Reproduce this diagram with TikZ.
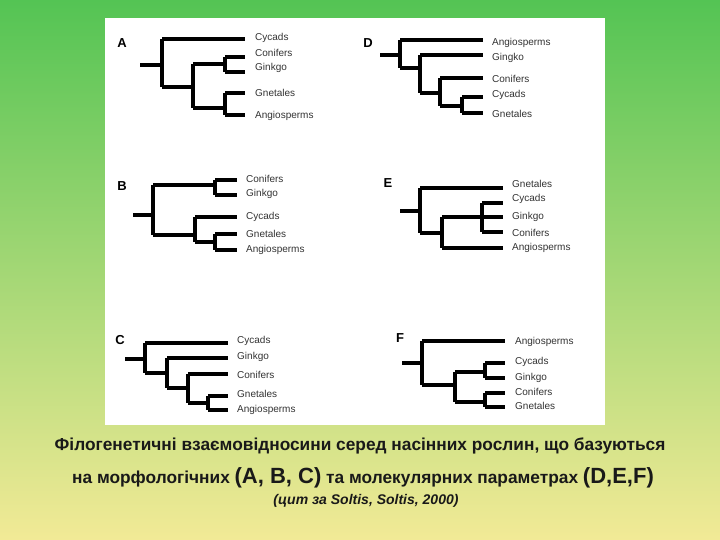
\documentclass[tikz,border=0pt]{standalone}
\usepackage{fontspec}
\setmainfont{Liberation Sans}
\begin{document}
\begin{tikzpicture}[x=1pt,y=-1pt,
  br/.style={line width=3.2pt,black,line cap=butt},
  lf/.style={anchor=west,font=\fontsize{10}{10}\selectfont,text=black!80,inner sep=0pt},
  tl/.style={anchor=center,font=\fontsize{13}{13}\selectfont\bfseries,inner sep=0pt},
  captxt/.style={anchor=center,font=\fontsize{17.3}{18}\selectfont\bfseries,text=black!90,inner sep=0pt}]
\useasboundingbox (0,0) rectangle (720,540);
\shade[top color={rgb,255:red,84;green,196;blue,84},bottom color={rgb,255:red,242;green,234;blue,150}] (0,0) rectangle (720,540);
\fill[white] (105,18) rectangle (605,425);
% A
\node[tl] (tA) at (122,43) {A};
\draw[br] (140,65)--(162,65) (162,39)--(162,87) (162,39)--(245,39) (162,87)--(193,87)
  (193,64)--(193,108) (193,64)--(225,64) (225,57)--(225,72) (225,57)--(245,57) (225,72)--(245,72)
  (193,108)--(225,108) (225,93)--(225,115) (225,93)--(245,93) (225,115)--(245,115);
\node[lf] at (255,38) {Cycads};\node[lf] at (255,53) {Conifers};\node[lf] at (255,68) {Ginkgo};
\node[lf] at (255,93) {Gnetales};\node[lf] at (255,116) {Angiosperms};
% D
\node[tl] (tD) at (368,43) {D};
\draw[br] (380,55)--(400,55) (400,40)--(400,68) (400,40)--(483,40) (400,68)--(420,68)
  (420,55)--(420,93) (420,55)--(483,55) (420,93)--(440,93) (440,78)--(440,106) (440,78)--(483,78)
  (440,106)--(462,106) (462,97)--(462,113) (462,97)--(483,97) (462,113)--(483,113);
\node[lf] at (492,43) {Angiosperms};\node[lf] at (492,58) {Gingko};\node[lf] at (492,79) {Conifers};
\node[lf] at (492,95) {Cycads};\node[lf] at (492,114) {Gnetales};
% B
\node[tl] (tB) at (122,186) {B};
\draw[br] (133,215)--(153,215) (153,185)--(153,235) (153,185)--(215,185) (215,180)--(215,195)
  (215,180)--(237,180) (215,195)--(237,195) (153,235)--(195,235) (195,217)--(195,242)
  (195,217)--(237,217) (195,242)--(215,242) (215,234)--(215,250) (215,234)--(237,234) (215,250)--(237,250);
\node[lf] at (246,179) {Conifers};\node[lf] at (246,194) {Ginkgo};\node[lf] at (246,217) {Cycads};
\node[lf] at (246,234) {Gnetales};\node[lf] at (246,250) {Angiosperms};
% E
\node[tl] (tE) at (388,183) {E};
\draw[br] (400,211)--(420,211) (420,188)--(420,233) (420,188)--(503,188) (420,233)--(442,233)
  (442,217)--(442,248) (442,217)--(482,217) (482,203)--(482,232) (482,203)--(503,203)
  (482,217)--(503,217) (482,232)--(503,232) (442,248)--(503,248);
\node[lf] at (512,184) {Gnetales};\node[lf] at (512,199) {Cycads};\node[lf] at (512,217) {Ginkgo};
\node[lf] at (512,233) {Conifers};\node[lf] at (512,248) {Angiosperms};
% C
\node[tl] (tC) at (120,340) {C};
\draw[br] (125,359)--(145,359) (145,343)--(145,373) (145,343)--(228,343) (145,373)--(167,373)
  (167,358)--(167,388) (167,358)--(228,358) (167,388)--(188,388) (188,374)--(188,403)
  (188,374)--(228,374) (188,403)--(208,403) (208,396)--(208,410) (208,396)--(228,396) (208,410)--(228,410);
\node[lf] at (237,341) {Cycads};\node[lf] at (237,357) {Ginkgo};\node[lf] at (237,375) {Conifers};
\node[lf] at (237,394) {Gnetales};\node[lf] at (237,410) {Angiosperms};
% F
\node[tl] (tF) at (400,338) {F};
\draw[br] (402,363)--(422,363) (422,341)--(422,385) (422,341)--(505,341) (422,385)--(455,385)
  (455,372)--(455,402) (455,372)--(485,372) (485,363)--(485,378) (485,363)--(505,363) (485,378)--(505,378)
  (455,402)--(485,402) (485,393)--(485,407) (485,393)--(505,393) (485,407)--(505,407);
\node[lf] at (515,342) {Angiosperms};\node[lf] at (515,362) {Cycads};\node[lf] at (515,378) {Ginkgo};
\node[lf] at (515,392) {Conifers};\node[lf] at (515,406) {Gnetales};
% caption
\node[captxt] (c1) at (360,446) {Філогенетичні взаємовідносини серед насінних рослин, що базуються};
\node[captxt] (c2) at (363,478) {на морфологічних {\fontsize{22}{22}\selectfont(A, B, C)} та молекулярних параметрах {\fontsize{22}{22}\selectfont(D,E,F)}};
\node[captxt,font=\fontsize{14}{15}\selectfont\bfseries\itshape] (c3) at (366,501) {(цит за Soltis, Soltis, 2000)};
\end{tikzpicture}
\end{document}
